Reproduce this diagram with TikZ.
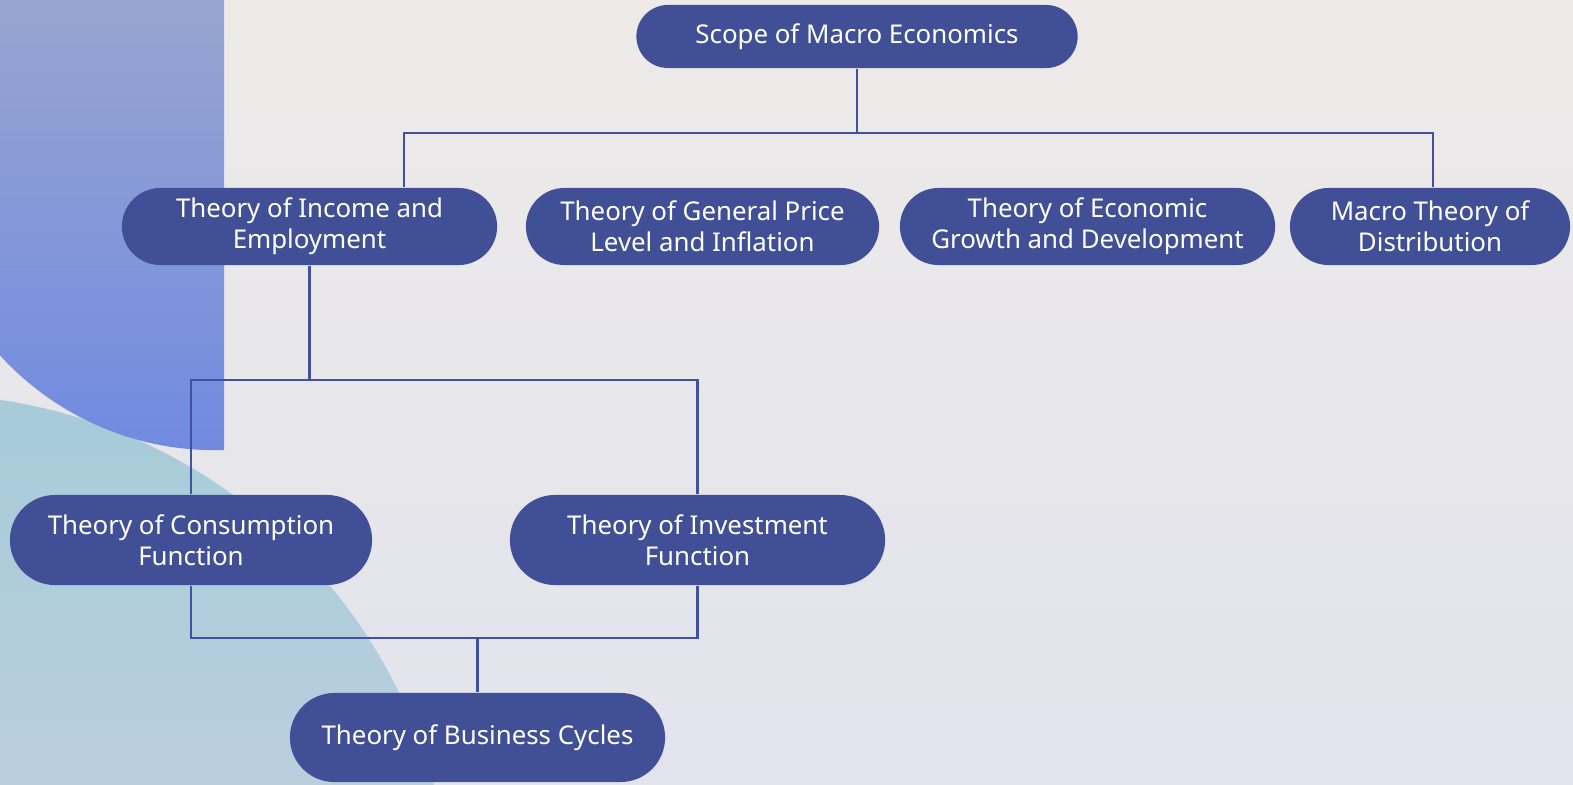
\documentclass[tikz,border=0pt]{standalone}
\usepackage{fontspec}
\setmainfont{Noto Sans}
\usetikzlibrary{shapes.misc}

\definecolor{bgtop}{RGB}{237,234,232}
\definecolor{bgbot}{RGB}{226,227,237}
\definecolor{bluetop}{RGB}{152,165,208}
\definecolor{bluebot}{RGB}{112,138,224}
\definecolor{tealtop}{RGB}{166,203,216}
\definecolor{tealbot}{RGB}{186,206,222}
\definecolor{boxfill}{RGB}{65,79,150}
\definecolor{linecol}{RGB}{63,81,160}

\tikzset{
	topic/.style={rounded rectangle,fill=boxfill,text=white,align=center,
		inner sep=0pt,font=\fontsize{7.35}{8.9}\selectfont},
	link/.style={draw=linecol,line width=0.6pt}
}

\begin{document}
	\begin{tikzpicture}[x=0.01cm,y=-0.01cm]
		
		\useasboundingbox (0,0) rectangle (1573,785);
		\shade[top color=bgtop,bottom color=bgbot] (0,0) rectangle (1573,785);
		
		\begin{scope}
			\clip (-78,924.5) circle [radius=5.3cm];
			\shade[top color=tealtop,bottom color=tealbot] (0,390) rectangle (460,785);
		\end{scope}
		
		\begin{scope}
			\clip (215,159) circle [radius=2.91cm];
			\shade[top color=bluetop,middle color=bluebot,bottom color=bluebot]
			(0,0) rectangle (224,451);
		\end{scope}
		
		\node[topic,minimum width=4.41cm,minimum height=0.63cm] (scope) at (857,36.5)
		{Scope of Macro Economics};
		
		\node[topic,minimum width=3.75cm,minimum height=0.77cm] (income) at (309.5,226.5)
		{Theory of Income and\\Employment};
		\node[topic,minimum width=3.53cm,minimum height=0.77cm] (price) at (702.5,226.5)
		{Theory of General Price\\Level and Inflation};
		\node[topic,minimum width=3.75cm,minimum height=0.77cm] (growth) at (1087.5,226.5)
		{Theory of Economic\\Growth and Development};
		\node[topic,minimum width=2.8cm,minimum height=0.77cm] (distrib) at (1430,226.5)
		{Macro Theory of\\Distribution};
		
		\node[topic,minimum width=3.62cm,minimum height=0.9cm] (consum) at (191,540)
		{Theory of Consumption\\Function};
		\node[topic,minimum width=3.75cm,minimum height=0.9cm] (invest) at (697.5,540)
		{Theory of Investment\\Function};
		
		\node[topic,minimum width=3.75cm,minimum height=0.89cm] (busi) at (477.5,737.5)
		{Theory of Business Cycles};
		
		\coordinate (j1) at (404,133);
		\coordinate (j2) at (1433,133);
		\coordinate (j3) at (309.5,380);
		\coordinate (j4) at (477.5,638);
		
		\draw[link] (scope.south) |- (j1) -- (j1 |- income.north);
		\draw[link] (scope.south) |- (j2) -- (j2 |- distrib.north);
		
		\draw[link] (income.south) |- (consum.north |- j3) -- (consum.north);
		\draw[link] (income.south) |- (invest.north |- j3) -- (invest.north);
		
		\draw[link] (consum.south) |- (j4) -| (invest.south);
		\draw[link] (busi.north) -- (j4);
		
	\end{tikzpicture}
\end{document}
